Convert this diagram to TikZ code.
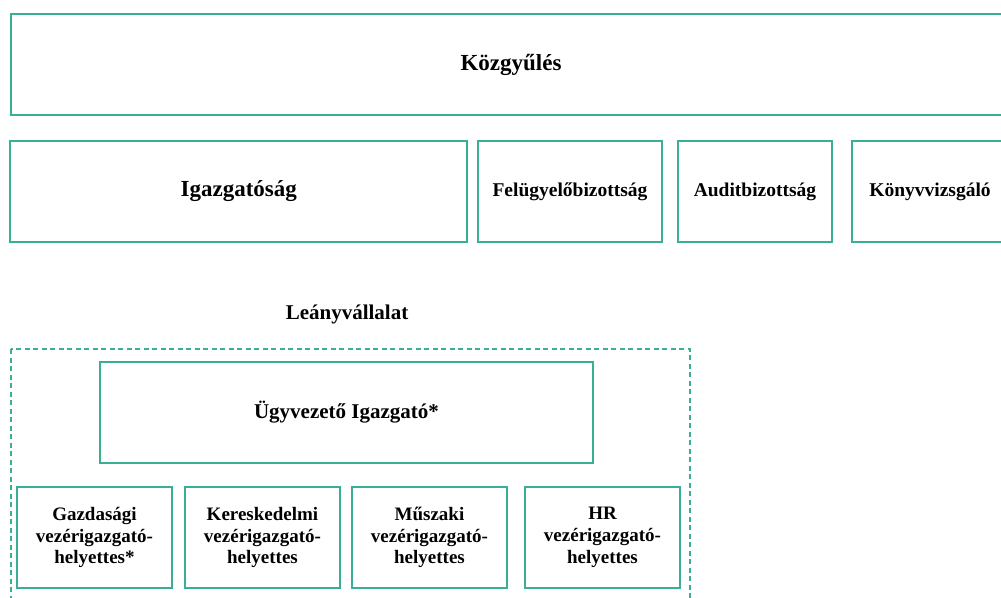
\documentclass[tikz,border=0pt]{standalone}
\usepackage{fontspec}
\setmainfont{Liberation Serif}
\definecolor{zold}{HTML}{3AAF95}
\tikzset{doboz/.style = {draw = zold, line width = 2pt, rectangle, inner sep = 0pt,
                         font = \bfseries\fontsize{#1}{#1}\selectfont, align = center},
         doboz/.default = 19.5,
         kicsi/.style = {doboz, minimum width = 155pt, minimum height = 101pt,
                         font = \bfseries\fontsize{19}{21.7}\selectfont},
         keret/.style = {draw = zold, line width = 2pt, dash pattern = on 5pt off 3.5pt}
        }
\begin{document}
\begin{tikzpicture}[x=1pt,y=-1pt]
\useasboundingbox (0,0) rectangle (1001,597);
\clip (0,0) rectangle (1001,597);
\node[doboz=23, minimum width=1000pt, minimum height=101pt] (kozgyules) at (511,64.5) {Közgyűlés};
\node[doboz=23, minimum width=457pt, minimum height=101pt] (igazg) at (238.75,191.5) {Igazgatóság};
\node[doboz, minimum width=184pt, minimum height=101pt] (felugy) at (570,191.5) {Felügyelőbizottság};
\node[doboz, minimum width=154pt, minimum height=101pt] (audit) at (755,191.5) {Auditbizottság};
\node[doboz, minimum width=156pt, minimum height=101pt] (konyv) at (930,191.5) {Könyvvizsgáló};
% leanyvallalat
\node[font=\bfseries\fontsize{21}{21}\selectfont] (leany) at (347,314) {Leányvállalat};
\draw[keret] (11,349) rectangle (690,610);
\node[doboz=21, minimum width=493pt, minimum height=101pt] (ugyv) at (346.5,412.5) {Ügyvezető Igazgató*};
\node[kicsi] (gazd) at (94.5,537.5) {Gazdasági\\vezérigazgató-\\helyettes*};
\node[kicsi] (keresk) at (262.5,537.5) {Kereskedelmi\\vezérigazgató-\\helyettes};
\node[kicsi] (muszaki) at (429.5,537.5) {Műszaki\\vezérigazgató-\\helyettes};
\node[kicsi] (hr) at (602.5,537.5) {HR\\vezérigazgató-\\helyettes};
\end{tikzpicture}
\end{document}
